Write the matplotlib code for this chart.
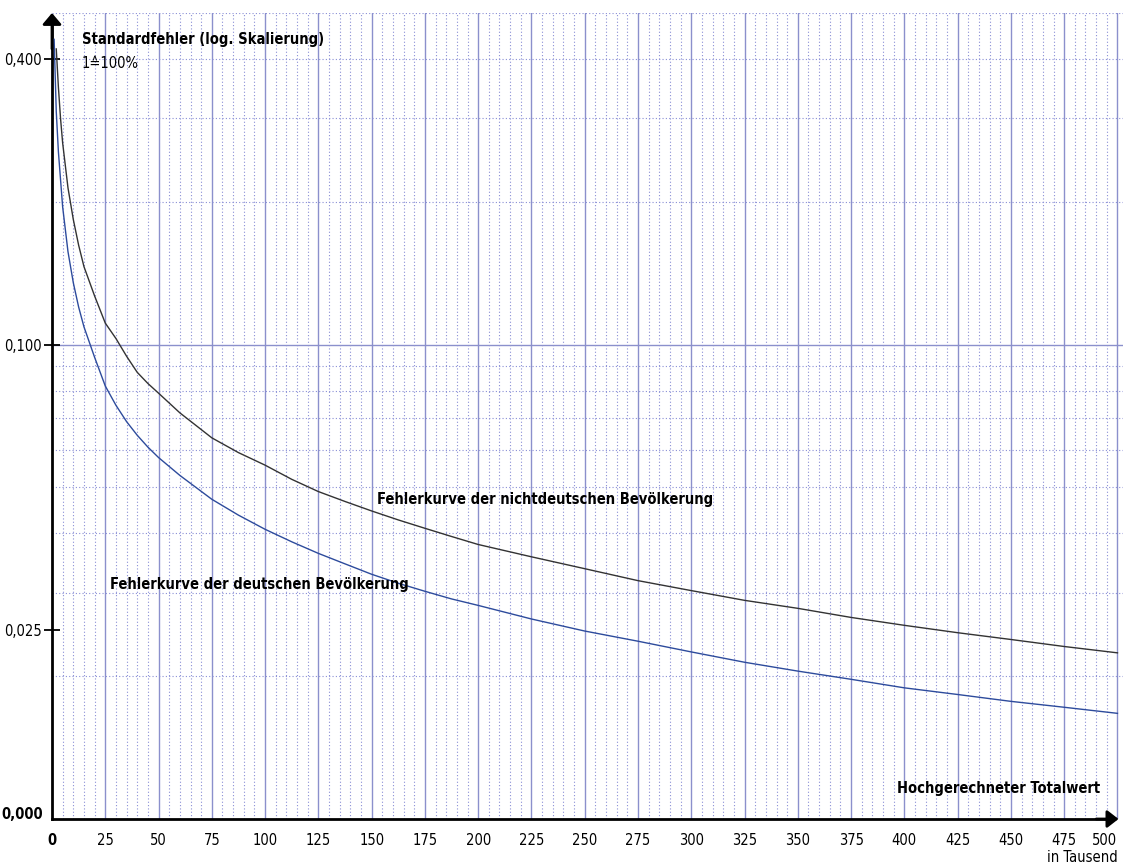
import matplotlib
matplotlib.use("Agg")
import matplotlib.pyplot as plt
import numpy as np

plt.rcParams['font.family'] = ['DejaVu Sans']
plt.rcParams['font.stretch'] = 'condensed'

# Fehlerkurve der nichtdeutschen Bevoelkerung (schwarz)
x_nd = [2, 3, 4, 5, 7.5, 10, 12.5, 15, 20, 25, 30, 35, 40, 45, 50, 60, 75, 87.5,
        100, 112.5, 125, 137.5, 150, 162.5, 175, 187.5, 200, 225, 250, 275, 300,
        325, 350, 375, 400, 425, 450, 475, 500]
se_nd = [0.42, 0.349, 0.300, 0.266, 0.214, 0.1835, 0.162, 0.146, 0.1266, 0.111,
         0.103, 0.0945, 0.0874, 0.0828, 0.079, 0.0718, 0.0636, 0.0592, 0.0557,
         0.0520, 0.0490, 0.0467, 0.0446, 0.0427, 0.0410, 0.0394, 0.0379, 0.0357,
         0.0337, 0.0318, 0.0303, 0.0289, 0.0278, 0.0266, 0.0256, 0.0247, 0.0239,
         0.0231, 0.0224]

# Fehlerkurve der deutschen Bevoelkerung (blau)
x_d = [1, 2, 3, 5, 7.5, 10, 12.5, 15, 20, 25, 30, 35, 40, 45, 50, 60, 75, 87.5,
       100, 112.5, 125, 137.5, 150, 162.5, 175, 187.5, 200, 225, 250, 275, 300,
       325, 350, 375, 400, 425, 450, 475, 500]
se_d = [0.44, 0.31, 0.255, 0.195, 0.157, 0.135, 0.120, 0.109, 0.094, 0.0818,
        0.0745, 0.0688, 0.0644, 0.0608, 0.0578, 0.0530, 0.0472, 0.0437, 0.0408,
        0.0384, 0.0363, 0.0345, 0.0328, 0.0314, 0.0302, 0.0291, 0.0282, 0.0264,
        0.0249, 0.0237, 0.0225, 0.0214, 0.0205, 0.0197, 0.0189, 0.0183, 0.0177,
        0.0172, 0.0167]

xticks = list(range(0, 501, 25))
yticks = [0.4, 0.1, 0.025]
ytick_labels = ['0,400', '0,100', '0,025']

grid_solid = '#8b90cc'
grid_dot = '#8a8fd6'
FS = 10.5

fig = plt.figure(figsize=(11.23, 8.66), dpi=100)
W, H = 1123, 866
ax = fig.add_axes([52 / W, (H - 819) / H, (W - 52) / W, (819 - 13) / H])
ax.set_yscale('log')
ax.set_xlim(0, 502.6)
ax.set_ylim(0.01, 0.5)

# Gitter
for gx in range(5, 501, 5):
    if gx % 25 == 0:
        ax.axvline(gx, color=grid_solid, lw=1.0, zorder=1)
    else:
        ax.axvline(gx, color=grid_dot, lw=0.8, ls=(0, (1, 2)), zorder=1)
hgrid = [0.02, 0.03, 0.04, 0.05, 0.06, 0.07, 0.08, 0.09, 0.2, 0.3, 0.4, 0.5]
for gy in hgrid:
    ax.axhline(gy, color=grid_dot, lw=0.8, ls=(0, (1, 2)), zorder=1)
ax.axhline(0.1, color=grid_solid, lw=1.0, zorder=1)

ax.plot(x_nd, se_nd, color='#333333', lw=1.0, zorder=3)
ax.plot(x_d, se_d, color='#2d4b9c', lw=1.0, zorder=3)

for s in ['top', 'right']:
    ax.spines[s].set_visible(False)
ax.spines['left'].set_linewidth(2.0)
ax.spines['bottom'].set_linewidth(2.0)
ax.spines['bottom'].set_bounds(0, 498)
ax.spines['left'].set_bounds(0.01, 0.47)

ax.annotate('', xy=(0, 0.5), xytext=(0, 0.42),
            arrowprops=dict(arrowstyle='-|>,head_length=0.45,head_width=0.38',
                            color='black', lw=2.0, mutation_scale=15, shrinkA=0, shrinkB=0),
            annotation_clip=False, zorder=5)
ax.annotate('', xy=(500.5, 0.01), xytext=(490, 0.01),
            arrowprops=dict(arrowstyle='-|>,head_length=0.45,head_width=0.35',
                            color='black', lw=2.0, mutation_scale=15, shrinkA=0, shrinkB=0),
            annotation_clip=False, zorder=5)

ax.set_yticks(yticks)
ax.set_yticklabels(ytick_labels)
ax.yaxis.set_minor_locator(matplotlib.ticker.NullLocator())
ax.tick_params(axis='y', direction='inout', length=12, width=1.3, pad=1.5, labelsize=FS)
ax.set_xticks(xticks)
ax.set_xticklabels([str(v) for v in xticks])
ax.tick_params(axis='x', length=0, pad=10, labelsize=FS)
xl = ax.get_xticklabels()
xl[0].set_fontweight('bold')
xl[-1].set_horizontalalignment('right')

ax.text(-0.008, 0.0102, '0,000', transform=ax.get_yaxis_transform(), ha='right',
        va='center', fontsize=FS, fontweight='bold')

ax.text(14, 0.4386, 'Standardfehler (log. Skalierung)', fontsize=FS, fontweight='bold',
        va='center', ha='left', zorder=4)
ax.text(14, 0.392, '1\u2259100%', fontsize=FS, va='center', ha='left', zorder=4)
ax.text(152.5, 0.0472, 'Fehlerkurve der nichtdeutschen Bevölkerung', fontsize=FS,
        fontweight='bold', va='center', ha='left', zorder=4)
ax.text(27, 0.0312, 'Fehlerkurve der deutschen Bevölkerung', fontsize=FS,
        fontweight='bold', va='center', ha='left', zorder=4)
ax.text(492, 0.0116, 'Hochgerechneter Totalwert', fontsize=FS, fontweight='bold',
        va='center', ha='right', zorder=4)
fig.text(1118 / W, 1 - 858 / H, 'in Tausend', fontsize=FS, va='center', ha='right')

fig.savefig('out.png', dpi=100, facecolor='white')
